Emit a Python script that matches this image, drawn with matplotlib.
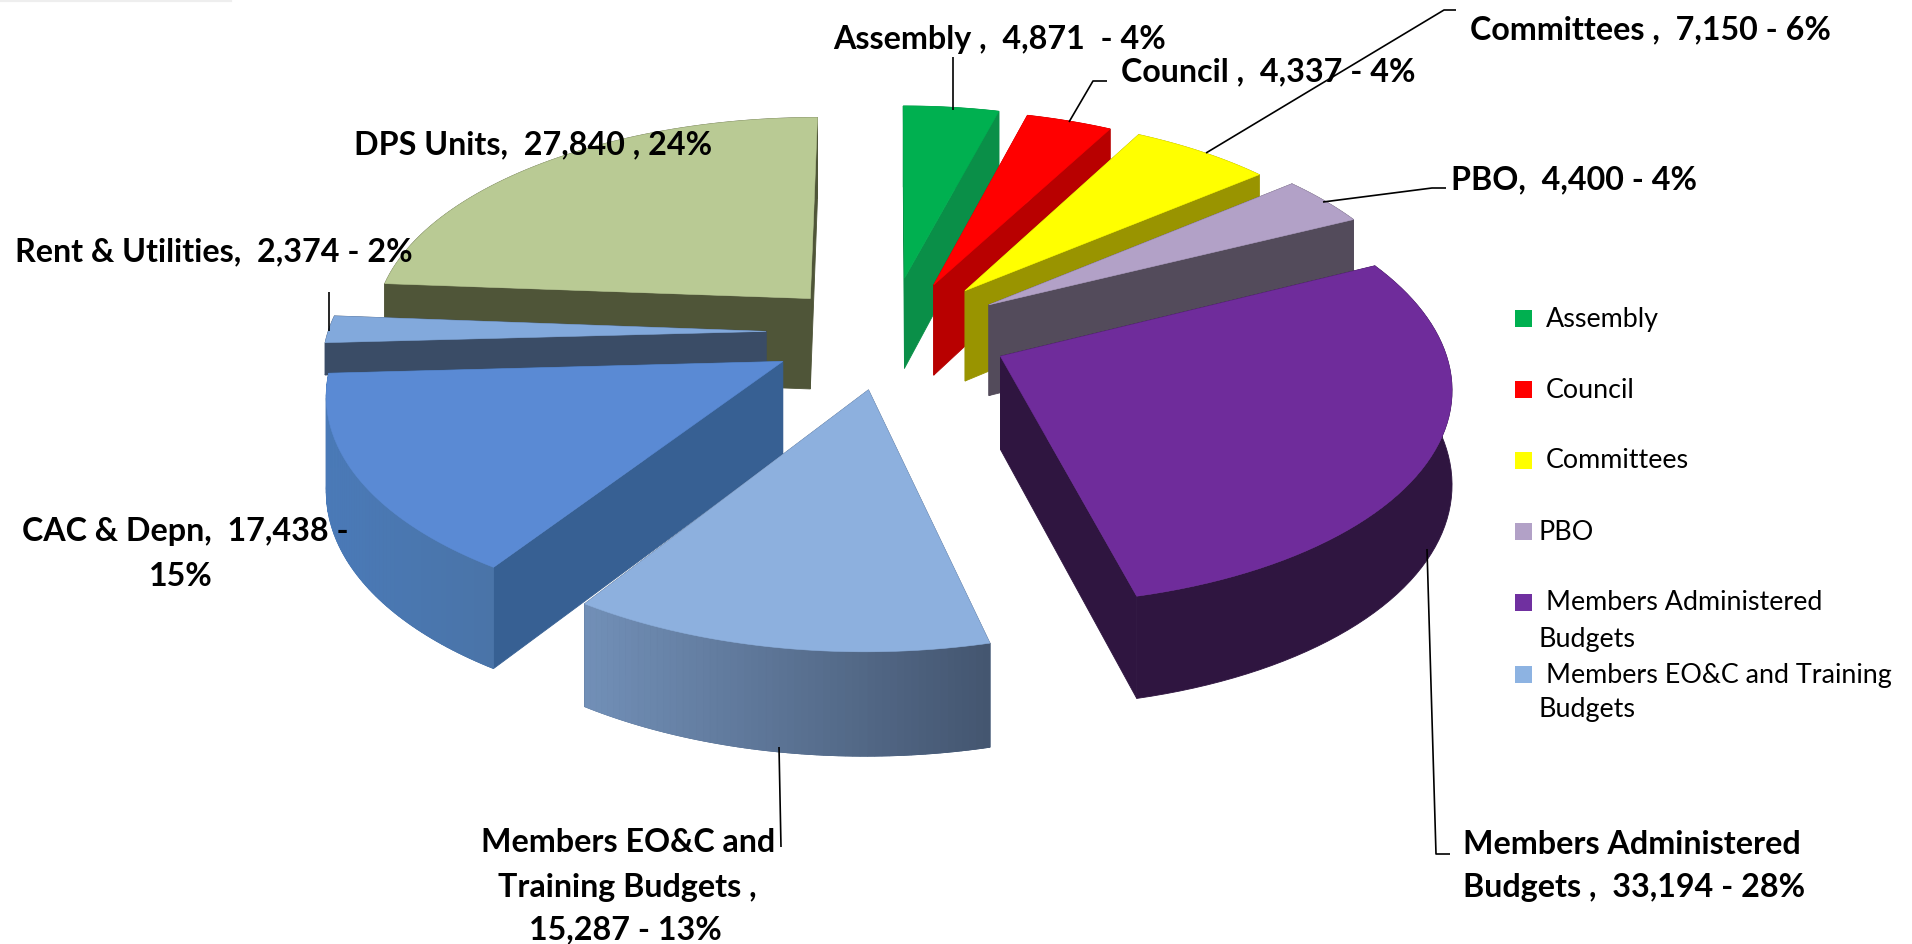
import numpy as np
import matplotlib
matplotlib.use('Agg')
import matplotlib.pyplot as plt
from matplotlib.colors import to_rgb

# Datos
names = ['Assembly', 'Council', 'Committees', 'PBO', 'Members Administered Budgets',
         'Members EO&C and Training Budgets', 'CAC & Depn', 'Rent & Utilities', 'DPS Units']
values = [4871, 4337, 7150, 4400, 33194, 15287, 17438, 2374, 27840]

# Estilo de cada porcion
top_colors = ['#00b050', '#ff0000', '#ffff00', '#b2a1c7', '#6f2c9b', '#8db0de', '#5a8ad4', '#82a9dc', '#b9ca94']
cut_colors = ['#0a8f48', '#b80000', '#999400', '#534b5b', '#2f1540', '#4a5f7c', '#376093', '#3a4c66', '#4f5538']
wall_left = ['#0a8f48', '#b80000', '#999400', '#534b5b', '#2f1540', '#7290b8', '#4a7ab8', '#3a4c66', '#4f5538']
wall_right = ['#0a8f48', '#b80000', '#999400', '#534b5b', '#2f1540', '#445670', '#4a74a8', '#3a4c66', '#4f5538']
explode = [90, 85, 100, 110, 118, 140, 125, 120, 100]
radius = [420, 425, 425, 440, 440, 440, 443, 438, 440]
thick = [1, 1, 1, 1, 1, 1, 1, 0.35, 1]
nudge_x = [0, 10, 10, 5, -1, 0, 0, -7, -16]
nudge_y = [-10, -8, -3, 3, 2, -9, 1, 2, 3]
draw_order = [8, 7, 6, 5, 0, 1, 2, 3, 4]

# Proyeccion en perspectiva del plano de la torta
cx, cy = 893, 330
R0 = 430
k = 0.12
squash = 0.48
depth = 92
depth_k = 0.1


def project(X, Y):
    w = 1 + k * Y / R0
    return cx + X / w, cy - squash * Y / w


def drop(Y):
    return depth * (1 - depth_k * Y / R0)


def face(X, Y, color, dx, dy, h):
    sx, sy = project(X, Y)
    xs = np.r_[sx, sx[::-1]] + dx
    ys = np.r_[sy, (sy + h * drop(Y))[::-1]] + dy
    return ys.mean(), xs, ys, color


fig = plt.figure(figsize=(19.12, 9.44), dpi=100)
ax = fig.add_axes([0, 0, 1, 1])
ax.set_xlim(0, 1912)
ax.set_ylim(944, 0)
ax.axis('off')

ang = np.r_[0, np.cumsum(values)] / np.sum(values) * 2 * np.pi

for i in draw_order:
    a0, a1 = ang[i], ang[i + 1]
    mid = (a0 + a1) / 2
    ox, oy = explode[i] * np.sin(mid), explode[i] * np.cos(mid)
    t = np.linspace(a0, a1, 60)
    X = ox + radius[i] * np.sin(t)
    Y = oy + radius[i] * np.cos(t)
    dx, dy, h = nudge_x[i], nudge_y[i], thick[i]

    # muro base para que no se vean costuras entre tiras
    c0, c1 = np.array(to_rgb(wall_left[i])), np.array(to_rgb(wall_right[i]))
    _, xs, ys, _ = face(X, Y, None, dx, dy, h)
    ax.fill(xs, ys, color=tuple((c0 + c1) / 2), lw=0.6)

    faces = []
    faces.append(face(np.array([ox, X[0]]), np.array([oy, Y[0]]), cut_colors[i], dx, dy, h))
    faces.append(face(np.array([ox, X[-1]]), np.array([oy, Y[-1]]), cut_colors[i], dx, dy, h))
    if wall_left[i] != wall_right[i]:
        sx_arc = project(X, Y)[0]
        for j in range(len(t) - 1):
            # el degradado del muro va de izquierda a derecha en pantalla
            f = (sx_arc[j] - sx_arc.min()) / (sx_arc.max() - sx_arc.min())
            faces.append(face(X[j:j + 2], Y[j:j + 2], tuple(c0 + (c1 - c0) * f), dx, dy, h))
    for _, xs, ys, color in sorted(faces, key=lambda q: q[0]):
        ax.fill(xs, ys, color=color, lw=0.6)

    sx, sy = project(np.r_[ox, X], np.r_[oy, Y])
    ax.fill(sx + dx, sy + dy, color=top_colors[i], lw=0.4)

# Lineas guia
leaders = [
    ([953, 953], [57, 110]),
    ([1069, 1093, 1107], [122, 81, 81]),
    ([1206, 1444, 1456], [153, 10, 10]),
    ([1323, 1432, 1446], [202, 188, 188]),
    ([329, 329], [292, 331]),
    ([779, 781], [747, 847]),
    ([1427, 1436, 1450], [549, 854, 854]),
]
for lx, ly in leaders:
    ax.plot(lx, ly, color='black', lw=1.2, solid_capstyle='butt')

# Etiquetas
font = dict(family='Lato', weight='bold', color='black', fontsize=23.2, va='center')
ax.text(833, 39, 'Assembly ,  4,871  - 4%', ha='left', **font)
ax.text(1121, 72, 'Council ,  4,337 - 4%', ha='left', **font)
ax.text(1470, 30, 'Committees ,  7,150 - 6%', ha='left', **font)
ax.text(1451, 180, 'PBO,  4,400 - 4%', ha='left', **font)
ax.text(354, 145, 'DPS Units,  27,840 , 24%', ha='left', **font)
ax.text(15, 252, 'Rent & Utilities,  2,374 - 2%', ha='left', **font)
ax.text(22, 531, 'CAC & Depn,  17,438 -', ha='left', **font)
ax.text(181, 576, '15%', ha='center', **font)
ax.text(628, 843, 'Members EO&C and', ha='center', **font)
ax.text(627, 887, 'Training Budgets ,', ha='center', **font)
ax.text(625, 930, '15,287 - 13%', ha='center', **font)
ax.text(1463, 844, 'Members Administered', ha='left', **font)
ax.text(1463, 887, 'Budgets ,  33,194 - 28%', ha='left', **font)

# Leyenda
legend_names = ['Assembly', 'Council', 'Committees', 'PBO', 'Members Administered', 'Members EO&C and Training']
legend_y = [319, 390, 461, 532, 603, 675]
legend_x = [1546, 1546, 1546, 1539, 1546, 1546]
legend_colors = top_colors[:3] + ['#b2a1c7', '#7030a0', '#8db3e2']
small = dict(family='Lato', color='black', fontsize=19.4, va='center', ha='left')
for nm, y, x, c in zip(legend_names, legend_y, legend_x, legend_colors):
    ax.fill([1515, 1532, 1532, 1515], [y - 9.5, y - 9.5, y + 7.5, y + 7.5], color=c, lw=0)
    ax.text(x, y, nm, **small)
ax.text(1539, 639, 'Budgets', **small)
ax.text(1539, 710, 'Budgets', **small)

ax.plot([0, 230], [0, 0], color='#eeeeee', lw=3)

fig.savefig('out.png', dpi=100)
